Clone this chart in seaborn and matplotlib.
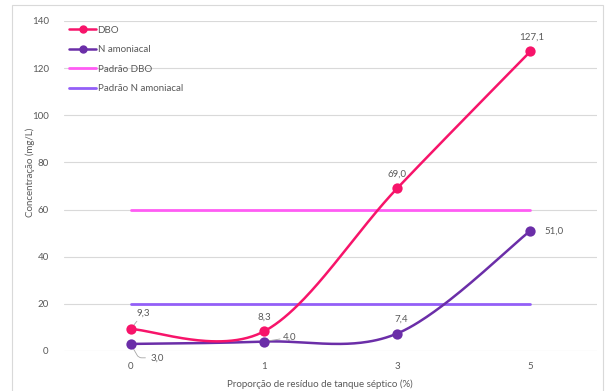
import numpy as np
import pandas as pd
import matplotlib
matplotlib.use("Agg")
import matplotlib.pyplot as plt
from matplotlib.lines import Line2D
from matplotlib.patches import Rectangle
import seaborn as sns

# Data
categorias = ["0", "1", "3", "5"]
dbo = [9.3, 8.3, 69.0, 127.1]
n_amoniacal = [3.0, 4.0, 7.4, 51.0]
padrao_dbo = 60
padrao_n = 20

COR_DBO = "#F7146A"
COR_N = "#6B2EA8"
COR_PDBO = "#FF5CF4"
COR_PN = "#935FF7"
TXT = "#595959"

sns.set_theme(style="white")
plt.rcParams["font.family"] = ["Lato", "DejaVu Sans"]


def suavizar(y, n=60):
    """Bezier smoothing through the points (Catmull-Rom style control points)."""
    x = np.arange(len(y), dtype=float)
    y = np.asarray(y, dtype=float)
    pts = np.column_stack([x, y])
    out = []
    for i in range(len(pts) - 1):
        p0 = pts[i - 1] if i > 0 else pts[i]
        p1 = pts[i]
        p2 = pts[i + 1]
        p3 = pts[i + 2] if i + 2 < len(pts) else pts[i + 1]
        c1 = p1 + (p2 - p0) / 6.0
        c2 = p2 - (p3 - p1) / 6.0
        t = np.linspace(0, 1, n)[:, None]
        seg = ((1 - t) ** 3) * p1 + 3 * ((1 - t) ** 2) * t * c1 + 3 * (1 - t) * t ** 2 * c2 + t ** 3 * p2
        out.append(seg if i == 0 else seg[1:])
    c = np.vstack(out)
    return c[:, 0], c[:, 1]


fig = plt.figure(figsize=(6.09, 3.91), dpi=100)
ax = fig.add_axes([64 / 609, 1 - 351 / 391, 533 / 609, 330 / 391])

pos = np.arange(len(categorias))

# Reference lines
df_pad = pd.DataFrame({"x": [pos[0], pos[-1]], "dbo": [padrao_dbo] * 2, "n": [padrao_n] * 2})
sns.lineplot(data=df_pad, x="x", y="dbo", ax=ax, color=COR_PDBO, lw=2.0, zorder=2)
sns.lineplot(data=df_pad, x="x", y="n", ax=ax, color=COR_PN, lw=2.0, zorder=2)

# Smoothed series
for serie, cor in [(n_amoniacal, COR_N), (dbo, COR_DBO)]:
    xs, ys = suavizar(serie)
    sns.lineplot(x=xs, y=ys, ax=ax, color=cor, lw=1.8, sort=False, estimator=None, zorder=3)
    sns.scatterplot(x=pos, y=serie, ax=ax, color=cor, s=55, edgecolor=cor, linewidth=0, zorder=4)

ax.set_xlim(-0.5, len(categorias) - 0.5)
ax.set_ylim(0, 140)
ax.set_yticks(range(0, 141, 20))
ax.set_xticks(pos)
ax.set_xticklabels(categorias)
ax.yaxis.grid(True, color="#D9D9D9", lw=0.8)
ax.set_axisbelow(True)
for s in ax.spines.values():
    s.set_visible(False)
ax.tick_params(axis="both", length=0, labelsize=7, colors=TXT)
ax.tick_params(axis="y", pad=11)
ax.tick_params(axis="x", pad=8)
ax.set_xlabel("Proporção de resíduo de tanque séptico (%)", fontsize=7, color=TXT)
ax.set_ylabel("Concentração (mg/L)", fontsize=7, color=TXT)
ax.xaxis.set_label_coords(0.48, -0.085)
ax.yaxis.set_label_coords(-0.055, 0.54)


def fmt(v):
    return f"{v:.1f}".replace(".", ",")


lab = dict(fontsize=7, color=TXT, textcoords="offset points")
arrow = dict(arrowstyle="-", color="#A6A6A6", lw=0.6, shrinkA=0, shrinkB=3)
# DBO labels
ax.annotate(fmt(dbo[0]), (pos[0], dbo[0]), xytext=(9, 8), ha="center", va="bottom", arrowprops=arrow, **lab)
ax.annotate(fmt(dbo[1]), (pos[1], dbo[1]), xytext=(0, 7), ha="center", va="bottom", **lab)
ax.annotate(fmt(dbo[2]), (pos[2], dbo[2]), xytext=(0, 7), ha="center", va="bottom", **lab)
ax.annotate(fmt(dbo[3]), (pos[3], dbo[3]), xytext=(1, 7), ha="center", va="bottom", **lab)
# N amoniacal labels
ax.annotate(fmt(n_amoniacal[0]), (pos[0], n_amoniacal[0]), xytext=(14, -10), ha="left", va="center",
            arrowprops=dict(arrowstyle="-", color="#A6A6A6", lw=0.6, shrinkA=1, shrinkB=3,
                            connectionstyle="angle,angleA=0,angleB=-60,rad=3"), **lab)
ax.annotate(fmt(n_amoniacal[1]), (pos[1], n_amoniacal[1]), xytext=(14, 3), ha="left", va="center",
            arrowprops=arrow, **lab)
ax.annotate(fmt(n_amoniacal[2]), (pos[2], n_amoniacal[2]), xytext=(3, 7), ha="center", va="bottom", **lab)
ax.annotate(fmt(n_amoniacal[3]), (pos[3], n_amoniacal[3]), xytext=(10, 0), ha="left", va="center", **lab)

handles = [
    Line2D([], [], color=COR_DBO, lw=1.8, marker="o", markersize=5),
    Line2D([], [], color=COR_N, lw=1.8, marker="o", markersize=5),
    Line2D([], [], color=COR_PDBO, lw=2.0),
    Line2D([], [], color=COR_PN, lw=2.0),
]
labels = ["DBO", "N amoniacal", "Padrão DBO", "Padrão N amoniacal"]
leg = fig.legend(handles, labels, loc="upper left", bbox_to_anchor=(65 / 609, 1 - 22 / 391),
                 frameon=False, fontsize=7, handlelength=2.8, handletextpad=0.15,
                 labelspacing=1.08, borderaxespad=0)
for t in leg.get_texts():
    t.set_color(TXT)

# Chart area frame
fig.patches.append(Rectangle((12 / 609, -0.02), (603 - 12) / 609, 1.02 - 5 / 391,
                             transform=fig.transFigure, fill=False, edgecolor="#D9D9D9", lw=0.8))

fig.savefig("out.png", dpi=100)
